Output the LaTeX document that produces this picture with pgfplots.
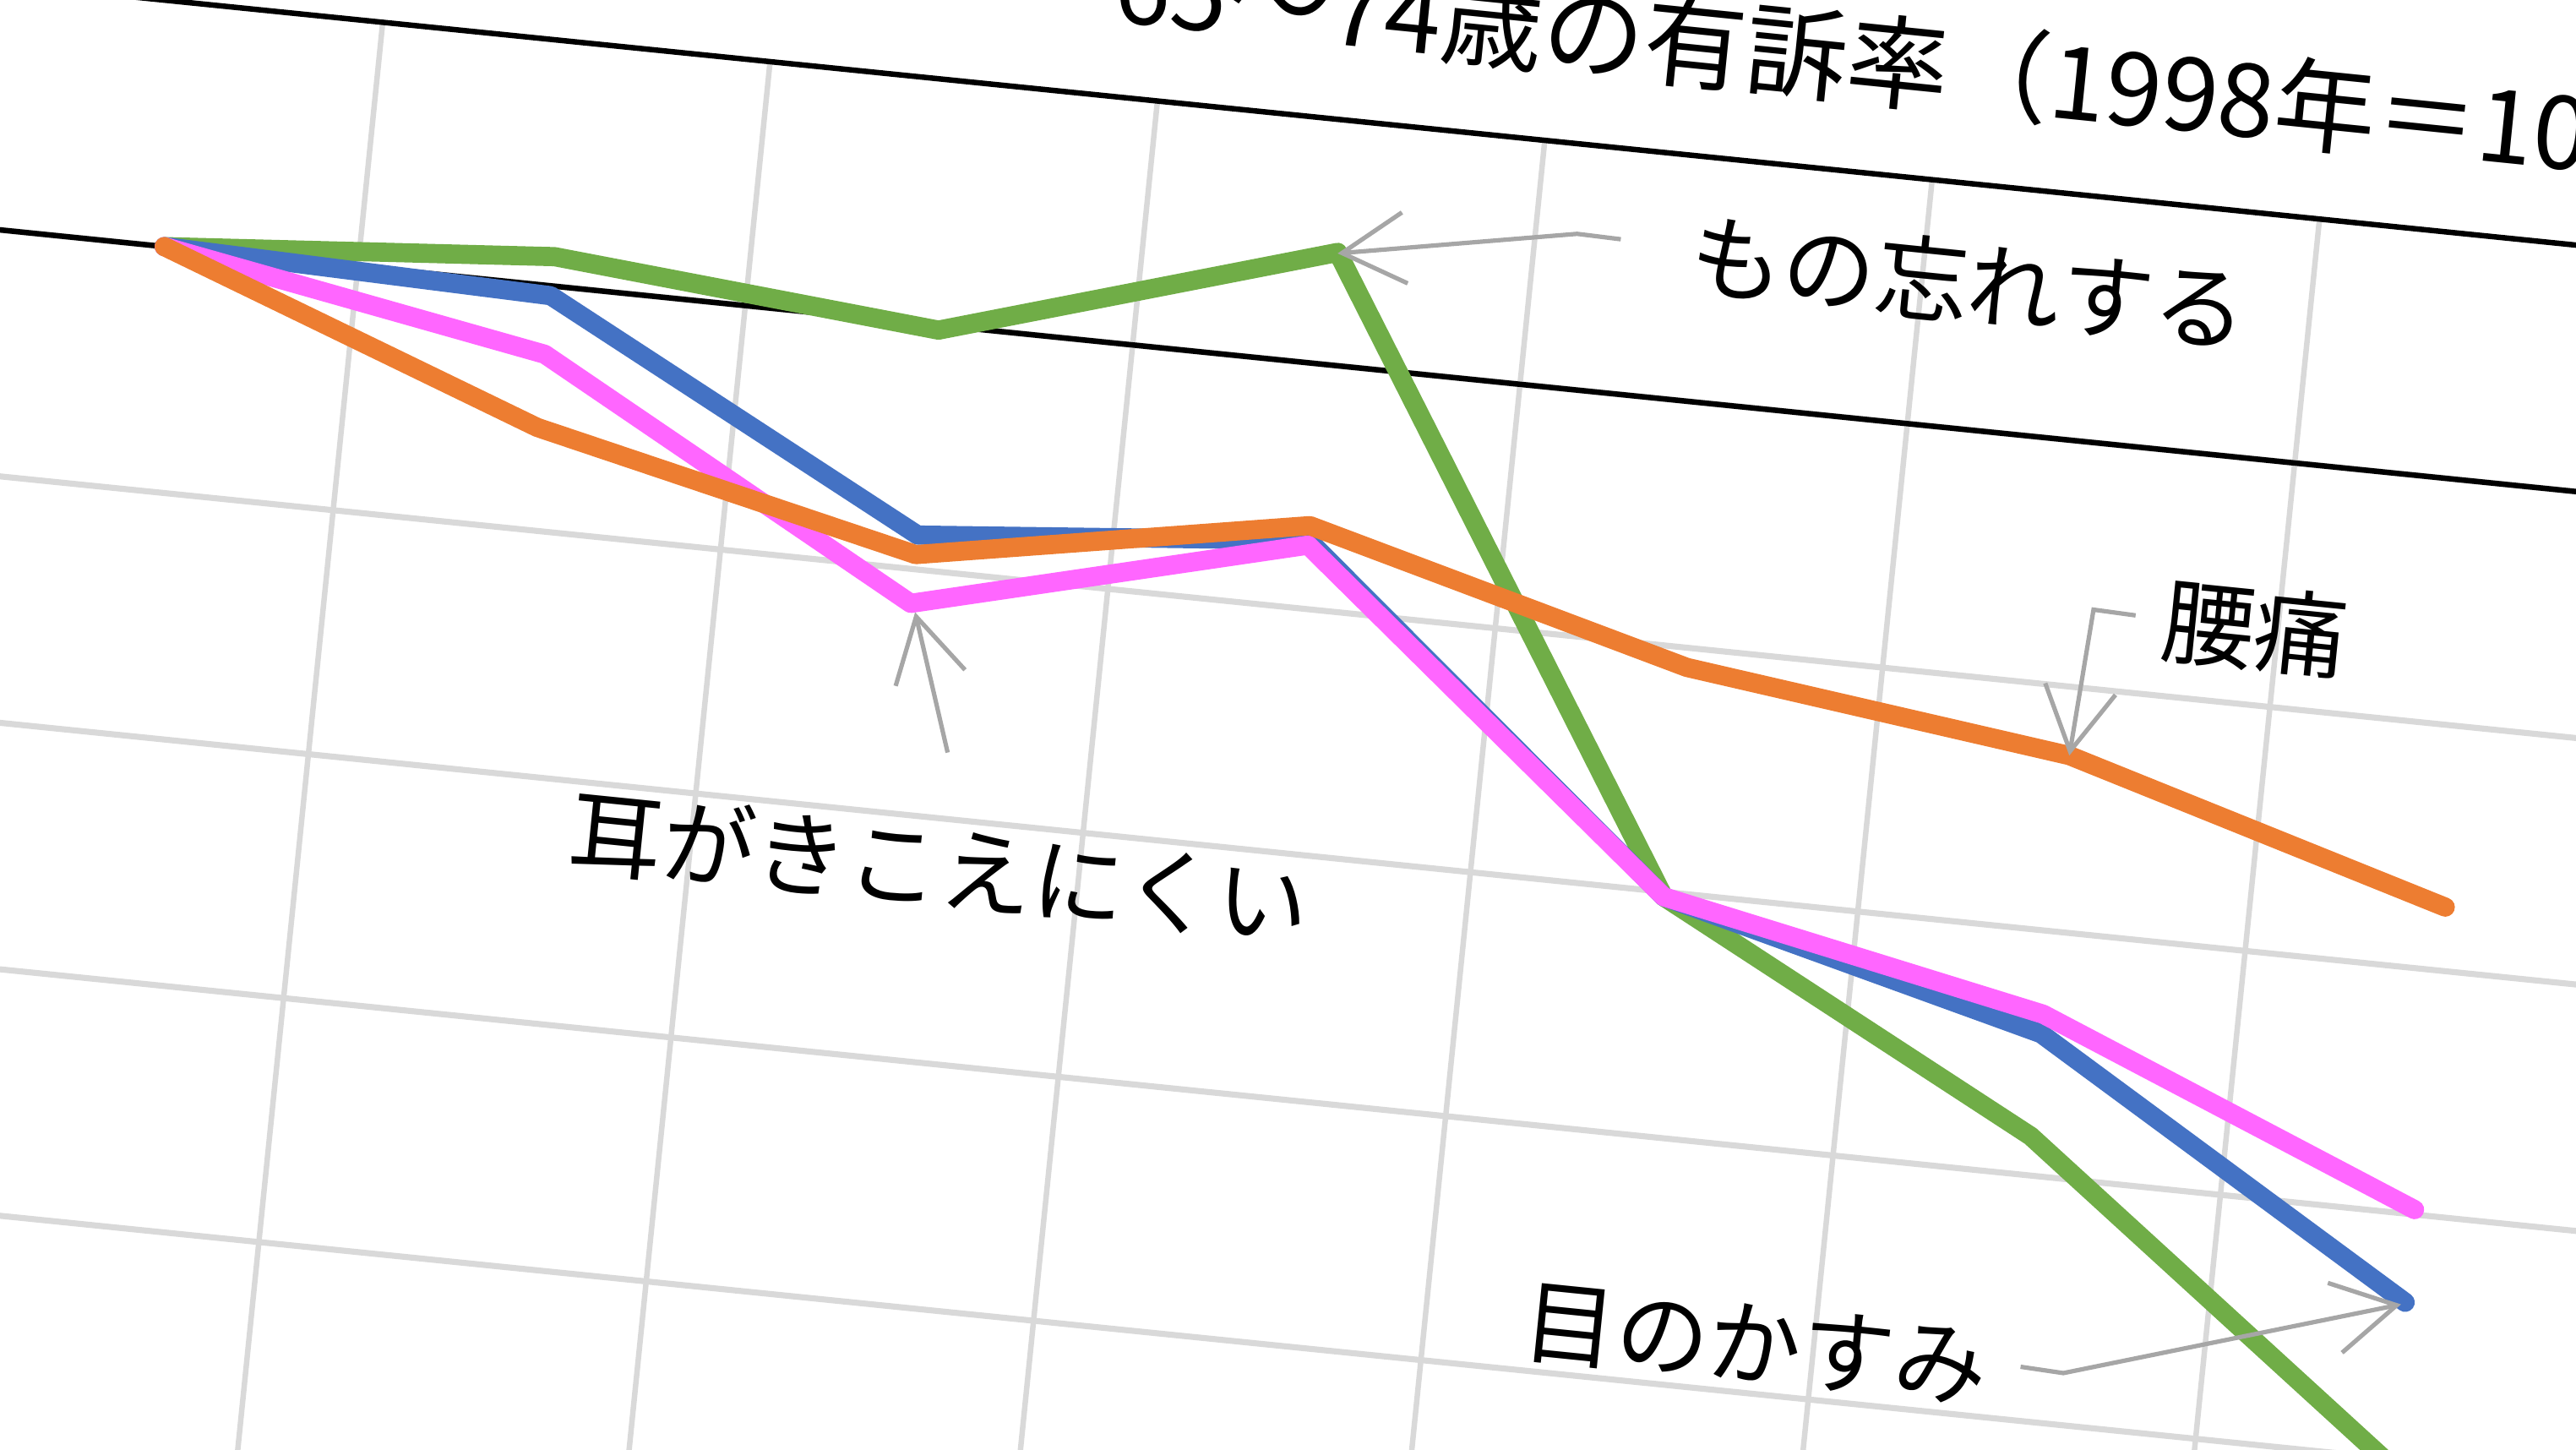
\documentclass[border=0pt]{standalone}
\usepackage{fontspec}
\setmainfont{Noto Sans CJK JP}
\usepackage{pgfplots}
\pgfplotsset{compat=1.18}
\usetikzlibrary{arrows.meta}

\definecolor{sBlue}{HTML}{4472C4}
\definecolor{sOrange}{HTML}{ED7D31}
\definecolor{sGreen}{HTML}{70AD47}
\definecolor{sPink}{HTML}{FF66FF}
\definecolor{gridgray}{HTML}{D9D9D9}
\definecolor{arrowgray}{HTML}{A6A6A6}

\tikzset{
  callout/.style={draw=arrowgray, line width=0.8pt, line join=miter,
    -{Straight Barb[length=11.5pt,width=13pt,line width=0.8pt]}},
  lbl/.style={inner sep=0pt, font=\fontsize{17}{20}\selectfont},
}

\begin{document}
\begin{tikzpicture}
\useasboundingbox (0,0) rectangle (470.4pt,264.6pt);
\clip (0,0) rectangle (470.4pt,264.6pt);
\begin{scope}[transform canvas={rotate around={-5.8:(30pt,219.6pt)}}]
\begin{axis}[
    at={(-5.55pt,-49.05pt)}, anchor=south west,
    scale only axis,
    width=497.7pt, height=313.4pt,
    xmin=-0.5, xmax=6.5,
    ymin=70, ymax=105,
    xtick={-0.5,0.5,...,6.5},
    ytick={70,75,...,100},
    xticklabel={}, yticklabel={},
    major tick length=0pt,
    axis line style={draw=none},
    xmajorgrids, ymajorgrids,
    x grid style={gridgray, line width=1pt},
    y grid style={gridgray, line width=1.1pt},
    clip=false,
    every axis plot/.append style={line width=3.5pt, line cap=round, line join=round},
]
% reference lines
\addplot[black, line width=1pt, line cap=butt] coordinates {(-0.5,100) (6.5,100)};
\addplot[black, line width=1pt, line cap=butt] coordinates {(-0.5,105) (6.5,105)};

% もの忘れする
\addplot[sGreen] coordinates {(0,100) (1,100.6) (2,99.9) (3,102.3) (4,89.9) (5,85.8) (6,79.9)};
% 目のかすみ
\addplot[sBlue] coordinates {(0,100) (1,99.8) (2,95.7) (3,96.4) (4,89.9) (5,87.9) (6,83.2)};
% 耳がきこえにくい
\addplot[sPink] coordinates {(0,100) (1,98.6) (2,94.3) (3,96.3) (4,89.9) (5,88.3) (6,85.1)};
% 腰痛
\addplot[sOrange] coordinates {(0,100) (1,97.1) (2,95.3) (3,96.7) (4,94.6) (5,93.6) (6,91.3)};

% callouts
\draw[callout] (axis cs:3.72,103.15) -- (axis cs:3.607,103.17) -- (axis cs:3.0,102.28);
\draw[callout] (axis cs:5.133,96.58) -- (axis cs:5.024,96.61) -- (axis cs:5.0,93.6);
\draw[callout] (axis cs:2.133,91.35) -- (axis cs:2.0135,94.13);
\draw[callout] (axis cs:5.034,81.10) -- (axis cs:5.145,81.06) -- (axis cs:5.99,83.15);

\node[lbl, anchor=west] at (axis cs:3.9,103.0) {もの忘れする};
\node[lbl, anchor=west] at (axis cs:5.2,96.55) {腰痛};
\node[lbl, anchor=west] at (axis cs:1.186,89.0) {耳がきこえにくい};
\node[lbl, anchor=west] at (axis cs:3.75,81.0) {目のかすみ};

\node[inner sep=0pt, font=\fontsize{18.6}{22}\selectfont] at (axis cs:4.47,107.3)
  {65～74歳の有訴率（1998年＝100）};
\end{axis}
\end{scope}
\end{tikzpicture}
\end{document}
